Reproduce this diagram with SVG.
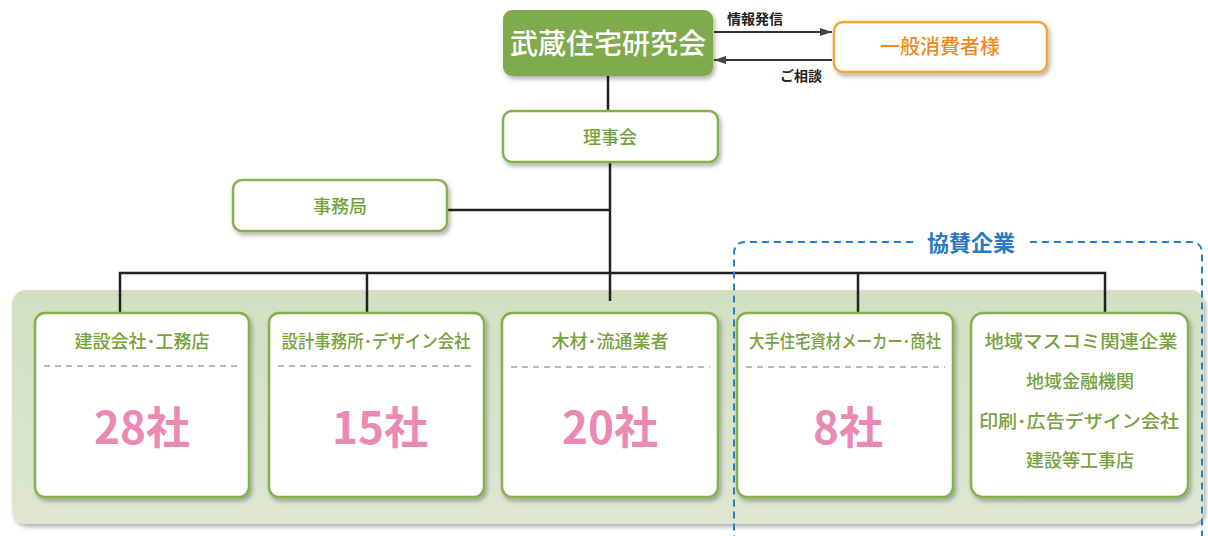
<svg xmlns="http://www.w3.org/2000/svg" width="1208" height="536" viewBox="0 0 1208 536">
<defs>
<style>
.box{fill:#fff;stroke:#86b04e;stroke-width:2.5}
.t{font-family:"Noto Sans CJK JP","Noto Sans",sans-serif;fill:#76a23c;font-size:18px;text-anchor:middle;font-weight:500}
.n{font-family:"Noto Sans CJK JP","Noto Sans",sans-serif;fill:#ea8ab4;font-size:44px;text-anchor:middle;font-weight:700}
.dash{stroke:#777;stroke-width:1;stroke-dasharray:6 5}
.ln{stroke:#222;stroke-width:2.5;fill:none}
.lab{font-family:"Noto Sans CJK JP","Noto Sans",sans-serif;fill:#222;font-size:14px;font-weight:700}
</style>
<filter id="sh" x="-10%" y="-10%" width="125%" height="130%">
<feDropShadow dx="2" dy="3" stdDeviation="2" flood-color="#000" flood-opacity="0.3"/>
</filter>
<marker id="ah" viewBox="0 0 12 8" refX="12" refY="4" markerWidth="12" markerHeight="8" markerUnits="userSpaceOnUse" orient="auto">
<path d="M0,0 L12,4 L0,8 z" fill="#444"/>
</marker>
<linearGradient id="pg" x1="0" y1="0" x2="0" y2="1">
<stop offset="0" stop-color="#d2e0c2"/>
<stop offset="1" stop-color="#dde7d2"/>
</linearGradient>
</defs>
<rect width="1208" height="536" fill="#fff"/>
<g id="panel">
<rect x="12" y="290" width="1192" height="234" rx="14" fill="url(#pg)" filter="url(#sh)"/>
</g>
<g id="connectors">
<line class="ln" x1="608" y1="76" x2="608" y2="111"/>
<line class="ln" x1="610" y1="162" x2="610" y2="301"/>
<line class="ln" x1="447" y1="210" x2="610" y2="210"/>
<polyline class="ln" points="120,314 120,273 1105,273 1105,314"/>
<line class="ln" x1="367" y1="273" x2="367" y2="314"/>
<line class="ln" x1="858" y1="273" x2="858" y2="314"/>
<line stroke="#333" stroke-width="2" x1="714" y1="32" x2="832" y2="32" marker-end="url(#ah)"/>
<line stroke="#333" stroke-width="2" x1="832" y1="60" x2="714" y2="60" marker-end="url(#ah)"/>
<text class="lab" x="727" y="24">情報発信</text>
<text class="lab" x="780" y="81">ご相談</text>
</g>
<g id="musashi">
<rect x="503" y="10" width="210" height="66" rx="9" fill="#7faa4e" filter="url(#sh)"/>
<text x="608" y="54" font-family="Noto Sans CJK JP,sans-serif" font-size="28" fill="#fff" text-anchor="middle" font-weight="500">武蔵住宅研究会</text>
</g>
<g id="consumer">
<rect x="834" y="22" width="213" height="50" rx="9" fill="#fff" stroke="#f3a634" stroke-width="2.5" filter="url(#sh)"/>
<text x="940" y="54" font-family="Noto Sans CJK JP,sans-serif" font-size="20" fill="#ef8a1e" text-anchor="middle" font-weight="500">一般消費者様</text>
</g>
<g id="rijikai">
<rect class="box" x="503" y="111" width="215" height="51" rx="9" filter="url(#sh)"/>
<text class="t" x="610" y="144" font-size="19">理事会</text>
</g>
<g id="jimukyoku">
<rect class="box" x="233" y="180" width="214" height="51" rx="9" filter="url(#sh)"/>
<text class="t" x="340" y="213" font-size="19">事務局</text>
</g>
<g id="kensetsu">
<rect class="box" x="35" y="313" width="214" height="184" rx="10" filter="url(#sh)"/>
<text class="t" x="142" y="348">建設会社･工務店</text>
<line class="dash" x1="44" y1="366" x2="241" y2="366"/>
<text class="n" x="142" y="444">28社</text>
</g>
<g id="sekkei">
<rect class="box" x="269" y="313" width="215" height="184" rx="10" filter="url(#sh)"/>
<text class="t" x="376" y="348" textLength="189" lengthAdjust="spacingAndGlyphs">設計事務所･デザイン会社</text>
<line class="dash" x1="278" y1="366" x2="476" y2="366"/>
<text class="n" x="380" y="444">15社</text>
</g>
<g id="mokuzai">
<rect class="box" x="502" y="313" width="216" height="184" rx="10" filter="url(#sh)"/>
<text class="t" x="610" y="348">木材･流通業者</text>
<line class="dash" x1="511" y1="367" x2="710" y2="367"/>
<text class="n" x="610" y="444">20社</text>
</g>
<g id="ote">
<rect class="box" x="737" y="313" width="216" height="184" rx="10" filter="url(#sh)"/>
<text class="t" x="845" y="348" textLength="192" lengthAdjust="spacingAndGlyphs">大手住宅資材メーカー･商社</text>
<line class="dash" x1="746" y1="367" x2="945" y2="367"/>
<text class="n" x="848" y="444">8社</text>
</g>
<g id="chiiki">
<rect class="box" x="971" y="313" width="217" height="184" rx="12" filter="url(#sh)"/>
<text class="t" x="1081" y="348" textLength="193" lengthAdjust="spacingAndGlyphs">地域マスコミ関連企業</text>
<text class="t" x="1080" y="388">地域金融機関</text>
<text class="t" x="1079" y="428" textLength="200" lengthAdjust="spacingAndGlyphs">印刷･広告デザイン会社</text>
<text class="t" x="1080" y="467">建設等工事店</text>
</g>
<g id="kyosan">
<path d="M913,242 H745 Q734,242 734,254 V536 M1030,242 H1191 Q1202,242 1202,254 V536" fill="none" stroke="#2f7cc6" stroke-width="2" stroke-dasharray="7 5"/>
<text x="971" y="251" font-family="Noto Sans CJK JP,sans-serif" font-size="22" fill="#2a78c4" text-anchor="middle" font-weight="700">協賛企業</text>
</g>
</svg>
